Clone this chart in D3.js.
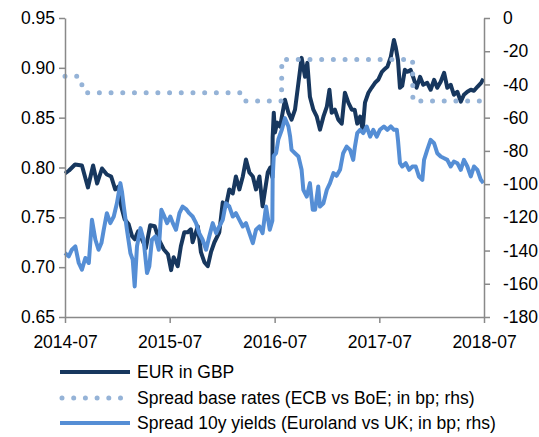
<!DOCTYPE html>
<html><head><meta charset="utf-8">
<script src="https://cdn.jsdelivr.net/npm/d3@7"></script>
<style>
html,body{margin:0;padding:0;background:#fff;}
svg{display:block;}
text{font-family:"Liberation Sans",Arial,sans-serif;fill:#000;}
</style></head><body>
<svg id="chart" width="539" height="437"></svg>
<script>
const xTickLabels = ["2014-07","2015-07","2016-07","2017-07","2018-07"];
const leftTicks = [0.65,0.70,0.75,0.80,0.85,0.90,0.95];
const rightTicks = [0,-20,-40,-60,-80,-100,-120,-140,-160,-180];
const seriesNames = ["EUR in GBP","Spread base rates (ECB vs BoE; in bp; rhs)","Spread 10y yields (Euroland vs UK; in bp; rhs)"];

const eurGbp = [
["2014-07-01",0.794],["2014-07-15",0.797],["2014-08-05",0.803],["2014-08-29",0.802],["2014-09-19",0.780],
["2014-10-07",0.802],["2014-10-21",0.784],["2014-11-07",0.799],["2014-11-24",0.793],["2014-12-09",0.791],
["2014-12-23",0.778],["2015-01-04",0.781],["2015-01-13",0.761],["2015-01-25",0.748],["2015-02-08",0.743],
["2015-02-20",0.731],["2015-03-01",0.728],["2015-03-13",0.736],["2015-03-26",0.728],["2015-04-09",0.719],
["2015-04-24",0.742],["2015-05-10",0.741],["2015-05-24",0.728],["2015-06-10",0.718],["2015-06-25",0.713],
["2015-07-06",0.697],["2015-07-15",0.710],["2015-07-29",0.701],["2015-08-09",0.721],["2015-08-21",0.735],
["2015-09-02",0.735],["2015-09-13",0.738],["2015-09-19",0.725],["2015-10-07",0.741],["2015-10-18",0.715],
["2015-10-30",0.705],["2015-11-11",0.701],["2015-11-22",0.715],["2015-12-04",0.725],["2015-12-21",0.735],
["2016-01-02",0.765],["2016-01-13",0.761],["2016-01-25",0.778],["2016-02-06",0.774],["2016-02-17",0.791],
["2016-02-29",0.778],["2016-03-12",0.791],["2016-03-23",0.808],["2016-04-04",0.795],["2016-04-16",0.791],
["2016-04-27",0.778],["2016-05-09",0.791],["2016-05-20",0.761],["2016-06-07",0.795],["2016-06-16",0.800],
["2016-06-23",0.790],["2016-06-24",0.830],["2016-06-28",0.855],["2016-07-02",0.835],["2016-07-10",0.845],
["2016-07-20",0.841],["2016-08-06",0.868],["2016-08-18",0.855],["2016-08-29",0.848],["2016-09-10",0.858],
["2016-09-22",0.885],["2016-10-03",0.910],["2016-10-15",0.891],["2016-10-23",0.905],["2016-11-01",0.871],
["2016-11-13",0.858],["2016-11-25",0.851],["2016-12-06",0.838],["2016-12-18",0.851],["2016-12-30",0.861],
["2017-01-08",0.878],["2017-01-16",0.855],["2017-01-27",0.858],["2017-02-08",0.848],["2017-02-20",0.844],
["2017-03-03",0.875],["2017-03-15",0.865],["2017-03-27",0.858],["2017-04-06",0.858],["2017-04-15",0.844],
["2017-04-25",0.851],["2017-05-04",0.838],["2017-05-12",0.865],["2017-05-24",0.875],["2017-06-04",0.880],
["2017-06-16",0.885],["2017-06-27",0.888],["2017-07-10",0.896],["2017-07-17",0.898],["2017-07-29",0.901],
["2017-08-10",0.911],["2017-08-21",0.928],["2017-08-27",0.921],["2017-09-04",0.908],["2017-09-11",0.880],
["2017-09-19",0.882],["2017-09-28",0.898],["2017-10-07",0.896],["2017-10-18",0.898],["2017-10-28",0.890],
["2017-11-08",0.880],["2017-11-20",0.891],["2017-12-01",0.883],["2017-12-15",0.885],["2017-12-27",0.878],
["2018-01-08",0.888],["2018-01-19",0.880],["2018-01-31",0.886],["2018-02-12",0.895],["2018-02-23",0.880],
["2018-03-07",0.883],["2018-03-18",0.873],["2018-03-30",0.876],["2018-04-11",0.866],["2018-04-22",0.873],
["2018-05-04",0.876],["2018-05-16",0.878],["2018-05-27",0.877],["2018-06-08",0.881],["2018-06-21",0.885],
["2018-06-29",0.889]
];

const baseRateSpread = [
["2014-07-01",-35],["2014-08-20",-35],["2014-09-06",-45],["2016-03-06",-45],["2016-03-18",-50],
["2016-07-25",-50],["2016-07-26",-25],["2017-10-25",-25],["2017-10-26",-50],["2018-06-29",-50]
];

const yieldSpread = [
["2014-07-01",-141.5],["2014-07-14",-143.5],["2014-07-25",-139.5],["2014-08-06",-137.5],["2014-08-18",-147.5],
["2014-08-29",-151.5],["2014-09-10",-144.5],["2014-09-22",-147.5],["2014-10-03",-121.5],["2014-10-15",-133.5],
["2014-10-26",-139.5],["2014-11-05",-135.5],["2014-11-13",-127.5],["2014-11-24",-117.5],["2014-12-06",-123.5],
["2014-12-18",-119.5],["2014-12-29",-111.5],["2015-01-10",-99.4],["2015-01-16",-105],["2015-01-22",-113.5],
["2015-02-02",-127.5],["2015-02-14",-141.5],["2015-02-22",-145.5],["2015-03-01",-161.6],["2015-03-09",-137.5],
["2015-03-21",-126.5],["2015-04-01",-133.5],["2015-04-13",-153.5],["2015-04-21",-149.5],["2015-04-30",-133.5],
["2015-05-12",-131.5],["2015-05-24",-139.5],["2015-06-02",-115.5],["2015-06-10",-118.5],["2015-06-22",-123.5],
["2015-07-03",-119.5],["2015-07-12",-123.5],["2015-07-23",-127.5],["2015-08-04",-117.5],["2015-08-15",-113.5],
["2015-08-27",-115],["2015-09-07",-117.5],["2015-09-19",-119.5],["2015-10-01",-123.5],["2015-10-12",-129.5],
["2015-10-24",-133.5],["2015-11-05",-139.5],["2015-11-16",-131.5],["2015-11-28",-123.5],["2015-12-10",-129.5],
["2015-12-21",-125.5],["2016-01-02",-121.5],["2016-01-13",-111.5],["2016-01-25",-113.5],["2016-02-06",-119.5],
["2016-02-17",-117.5],["2016-02-29",-121.5],["2016-03-12",-125.5],["2016-03-23",-123.5],["2016-04-04",-129.5],
["2016-04-16",-135.5],["2016-04-27",-127.5],["2016-05-09",-125.5],["2016-05-20",-129.5],["2016-06-01",-113.5],
["2016-06-14",-127.5],["2016-06-23",-122],["2016-06-24",-97],["2016-06-28",-83],["2016-07-06",-81.4],
["2016-07-14",-73],["2016-07-26",-67.3],["2016-08-06",-60.3],["2016-08-18",-65.3],["2016-08-24",-71.4],
["2016-08-29",-79.4],["2016-09-10",-81.4],["2016-09-22",-83.4],["2016-10-03",-91.4],["2016-10-09",-103.4],
["2016-10-21",-107.5],["2016-11-01",-99.4],["2016-11-11",-115.5],["2016-11-19",-115.5],["2016-11-30",-101.4],
["2016-12-06",-113.5],["2016-12-18",-111.5],["2016-12-30",-103.4],["2017-01-10",-99.4],["2017-01-22",-93.4],
["2017-02-02",-95],["2017-02-14",-91.4],["2017-02-25",-81.4],["2017-03-09",-77.4],["2017-03-21",-79.4],
["2017-04-01",-85.4],["2017-04-07",-77.4],["2017-04-15",-69.3],["2017-04-25",-67.3],["2017-05-06",-69.3],
["2017-05-18",-65.3],["2017-05-30",-71.4],["2017-06-10",-67.3],["2017-06-22",-71.4],["2017-07-03",-67.3],
["2017-07-17",-65.3],["2017-07-29",-67.3],["2017-08-10",-65.3],["2017-08-21",-67.3],["2017-08-31",-67.3],
["2017-09-04",-73.4],["2017-09-11",-87.4],["2017-09-19",-89.4],["2017-10-01",-87.4],["2017-10-13",-91.4],
["2017-10-24",-89.4],["2017-11-05",-89.4],["2017-11-16",-95.4],["2017-11-28",-97.4],["2017-12-04",-85.4],
["2017-12-15",-79.4],["2017-12-27",-73.4],["2018-01-08",-75.4],["2018-01-19",-81.4],["2018-01-31",-83.4],
["2018-02-12",-84.4],["2018-02-23",-85.4],["2018-03-07",-89.4],["2018-03-18",-86.4],["2018-03-30",-87.4],
["2018-04-11",-91.4],["2018-04-22",-85.4],["2018-05-04",-89.4],["2018-05-16",-95.4],["2018-05-27",-89.4],
["2018-06-08",-91.4],["2018-06-20",-97.4],["2018-06-29",-99.4]
];

// ---- layout ----
const L = 65, R = 484, T = 18, B = 317;
const FS = "17.5px";
const axisColor = "#898989";
const colors = ["#17375E", "#95B3D7", "#558ED5"];

const parse = d3.timeParse("%Y-%m-%d");
const parseM = d3.timeParse("%Y-%m");
const svg = d3.select("#chart");

const x = d3.scaleTime().domain([parseM(xTickLabels[0]), parseM(xTickLabels[xTickLabels.length-1])]).range([L, R]);
const yL = d3.scaleLinear().domain([0.65, 0.95]).range([B, T]);
const yR = d3.scaleLinear().domain([-180, 0]).range([B, T]);

function styleAxis(g){
  g.selectAll("path.domain").attr("stroke", axisColor).attr("stroke-width", 1.5);
  g.selectAll(".tick line").attr("stroke", axisColor).attr("stroke-width", 1.5);
  g.selectAll("text").attr("font-size", FS).attr("fill", "#000")
   .style("font-family", '"Liberation Sans",Arial,sans-serif');
}

// lines
const lineL = d3.line().x(d => x(parse(d[0]))).y(d => yL(d[1]));
const lineR = d3.line().x(d => x(parse(d[0]))).y(d => yR(d[1]));

svg.append("path").datum(eurGbp).attr("d", lineL)
  .attr("fill","none").attr("stroke",colors[0]).attr("stroke-width",4).attr("stroke-linejoin","round");
svg.append("path").datum(baseRateSpread).attr("d", lineR)
  .attr("fill","none").attr("stroke",colors[1]).attr("stroke-width",5)
  .attr("stroke-linecap","round").attr("stroke-dasharray","0 11.7");
svg.append("path").datum(yieldSpread).attr("d", lineR)
  .attr("fill","none").attr("stroke",colors[2]).attr("stroke-width",4).attr("stroke-linejoin","round");

// axes
const gx = svg.append("g").attr("transform", `translate(0,${B})`)
  .call(d3.axisBottom(x).tickValues(xTickLabels.map(parseM)).tickFormat(d3.timeFormat("%Y-%m"))
    .tickSize(6).tickSizeOuter(0).tickPadding(13));
styleAxis(gx);

const gl = svg.append("g").attr("transform", `translate(${L},0)`)
  .call(d3.axisLeft(yL).tickValues(leftTicks).tickFormat(d3.format(".2f")).tickSize(6).tickSizeOuter(0).tickPadding(4));
styleAxis(gl);

const gr = svg.append("g").attr("transform", `translate(${R},0)`)
  .call(d3.axisRight(yR).tickValues(rightTicks).tickFormat(d => String(d)).tickSize(6).tickSizeOuter(0).tickPadding(13));
styleAxis(gr);

// legend
const legY = [372, 398, 423];
const leg = svg.append("g");
seriesNames.forEach((name, i) => {
  const ln = leg.append("line").attr("x1", i === 1 ? 62 : 60).attr("x2", i === 1 ? 121 : 130)
    .attr("y1", legY[i]).attr("y2", legY[i]).attr("stroke", colors[i]);
  if (i === 1) ln.attr("stroke-width",5).attr("stroke-linecap","round").attr("stroke-dasharray","0 11.7");
  else ln.attr("stroke-width",4);
  leg.append("text").attr("x", 137).attr("y", legY[i]).attr("dy","0.35em")
    .attr("font-size", FS).text(name);
});
</script>
</body></html>
